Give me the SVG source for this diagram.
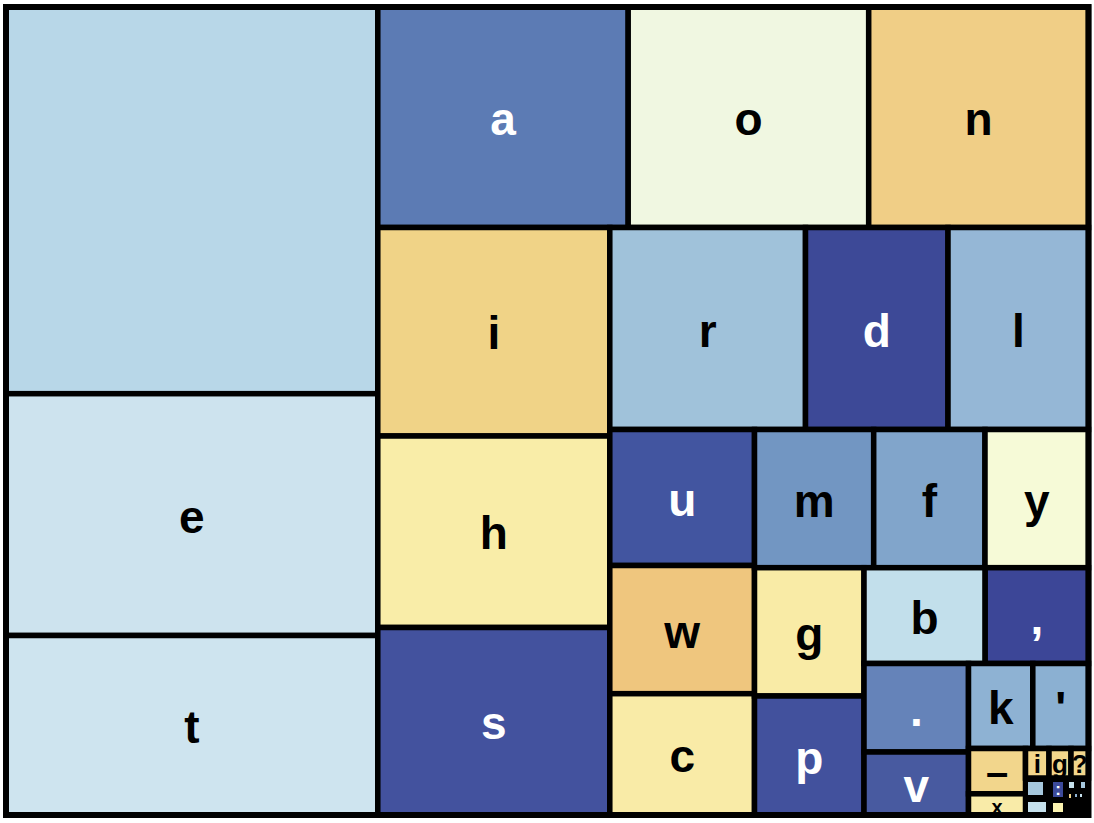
<svg xmlns="http://www.w3.org/2000/svg" width="1094" height="823" viewBox="0 0 1094 823">
<style>
.c{stroke:#000;stroke-width:5.5}
.t{font-family:"Liberation Sans",Arial,sans-serif;font-weight:bold;font-size:46px;text-anchor:middle;dominant-baseline:central}
.s{font-size:26px}
.w{fill:#fff}
.k{fill:#000}
</style>
<rect width="1094" height="823" fill="#fff"/>
<g id="cells">
<g id="n-space"><rect class="c" x="6" y="7" width="371.8" height="386.7" fill="#B8D7E8"/></g>
<g id="n-e"><rect class="c" x="6" y="393.7" width="371.8" height="241.8" fill="#CDE3EE"/><text class="t k" x="191.9" y="516.6">e</text></g>
<g id="n-t"><rect class="c" x="6" y="635.5" width="371.8" height="179.5" fill="#CEE4EF"/><text class="t k" x="191.9" y="727.3">t</text></g>
<g id="n-a"><rect class="c" x="377.8" y="7" width="250.4" height="220.5" fill="#5C7BB4"/><text class="t w" x="503" y="119.3">a</text></g>
<g id="n-o"><rect class="c" x="628.2" y="7" width="240.5" height="220.5" fill="#F0F7E1"/><text class="t k" x="748.5" y="119.3">o</text></g>
<g id="n-n"><rect class="c" x="868.7" y="7" width="219.8" height="220.5" fill="#F0CE86"/><text class="t k" x="978.6" y="119.3">n</text></g>
<g id="n-i"><rect class="c" x="377.8" y="227.5" width="232" height="208.5" fill="#F0D387"/><text class="t k" x="493.8" y="333.3">i</text></g>
<g id="n-h"><rect class="c" x="377.8" y="436" width="232" height="191.5" fill="#F9EDA8"/><text class="t k" x="493.8" y="533.3">h</text></g>
<g id="n-s"><rect class="c" x="377.8" y="627.5" width="232" height="187.5" fill="#43529E"/><text class="t w" x="493.8" y="723.3">s</text></g>
<g id="n-r"><rect class="c" x="609.8" y="227.5" width="195.7" height="202" fill="#A0C2DA"/><text class="t k" x="707.7" y="330.5">r</text></g>
<g id="n-d"><rect class="c" x="805.5" y="227.5" width="142.5" height="202" fill="#3D4997"/><text class="t w" x="876.8" y="330.5">d</text></g>
<g id="n-l"><rect class="c" x="948" y="227.5" width="140.5" height="202" fill="#95B7D6"/><text class="t k" x="1018.3" y="330.5">l</text></g>
<g id="n-u"><rect class="c" x="609.8" y="429.5" width="144.7" height="136" fill="#4255A0"/><text class="t w" x="682.2" y="499.5">u</text></g>
<g id="n-w"><rect class="c" x="609.8" y="565.5" width="144.7" height="128.2" fill="#EFC67E"/><text class="t k" x="682.2" y="631.6">w</text></g>
<g id="n-c"><rect class="c" x="609.8" y="693.7" width="144.7" height="121.3" fill="#F9EBA7"/><text class="t k" x="682.2" y="756.4">c</text></g>
<g id="n-m"><rect class="c" x="754.5" y="429.5" width="119.2" height="138.2" fill="#7296C2"/><text class="t k" x="814.1" y="500.6">m</text></g>
<g id="n-f"><rect class="c" x="873.7" y="429.5" width="111.3" height="138.2" fill="#81A5CB"/><text class="t k" x="929.4" y="500.6">f</text></g>
<g id="n-y"><rect class="c" x="985" y="429.5" width="103.5" height="138.2" fill="#F6FAD7"/><text class="t k" x="1036.8" y="500.6">y</text></g>
<g id="n-g"><rect class="c" x="754.5" y="567.7" width="109.5" height="128.3" fill="#F9EBA6"/><text class="t k" x="809.3" y="633.9">g</text></g>
<g id="n-p"><rect class="c" x="754.5" y="696" width="109.5" height="119" fill="#42519D"/><text class="t w" x="809.3" y="757.5">p</text></g>
<g id="n-b"><rect class="c" x="864" y="567.7" width="121.2" height="95.8" fill="#C2DFEB"/><text class="t k" x="924.6" y="617.6">b</text></g>
<g id="n-comma"><rect class="c" x="985.2" y="567.7" width="103.3" height="95.8" fill="#3C4697"/><text class="t w" x="1036.9" y="617.6">,</text></g>
<g id="n-period"><rect class="c" x="864" y="663.5" width="104.5" height="88.5" fill="#6583B9"/><text class="t w" x="916.3" y="709.8">.</text></g>
<g id="n-v"><rect class="c" x="864" y="752" width="104.5" height="63" fill="#485AA0"/><text class="t w" x="916.3" y="785.5">v</text></g>
<g id="n-k"><rect class="c" x="968.5" y="663.5" width="64.3" height="85" fill="#8EB2D3"/><text class="t k" x="1000.7" y="708">k</text></g>
<g id="n-apos"><rect class="c" x="1032.8" y="663.5" width="55.7" height="85" fill="#8BB0D2"/><text class="t k" x="1060.7" y="708">'</text></g>
<g id="n-dash"><rect class="c" x="968.5" y="748.5" width="57" height="45.3" fill="#F2D68C"/><text class="t k" x="997" y="772" style="font-size:40px">–</text></g>
<g id="n-x"><rect class="c" x="968.5" y="793.8" width="57" height="21.2" fill="#F9EBA8"/><text class="t k" x="997" y="806.5" style="font-size:20px">x</text></g>
<g id="n-i2"><rect class="c" x="1025.5" y="748.5" width="23.5" height="29.5" fill="#F2D68C"/><text class="t s k" x="1037.3" y="763.8">i</text></g>
<g id="n-g2"><rect class="c" x="1049" y="748.5" width="22" height="29.5" fill="#F2D68C"/><text class="t s k" x="1060" y="763.8">g</text></g>
<g id="n-q"><rect class="c" x="1071" y="748.5" width="17.5" height="29.5" fill="#F2D68C"/><text class="t s k" x="1079.8" y="763.8">?</text></g>
<g id="n-tiny">
<rect x="1025.5" y="778" width="63" height="37" fill="#000"/>
<rect x="1028" y="782" width="15" height="13" fill="#A6C7DD"/>
<rect x="1053" y="782" width="10" height="15" fill="#3C4A9A"/>
<text class="t w" x="1058" y="789.5" style="font-size:17px">:</text>
<rect x="1028" y="802" width="18" height="10" fill="#C5E0EC"/>
<rect x="1053" y="803" width="10" height="9" fill="#FBF3B0"/>
<rect x="1069" y="782" width="5" height="6" fill="#C5E0EC"/>
<rect x="1081" y="782" width="4" height="6" fill="#A6C7DD"/>
<rect x="1069" y="794" width="2" height="4" fill="#F2D68C"/>
<rect x="1075" y="794" width="2" height="3" fill="#8EB2D3"/>
<rect x="1080" y="794" width="2" height="3" fill="#C5E0EC"/>
</g>
</g>
<g id="connectors"></g>
<rect x="6" y="7" width="1082.5" height="808" fill="none" stroke="#000" stroke-width="6"/>
</svg>
